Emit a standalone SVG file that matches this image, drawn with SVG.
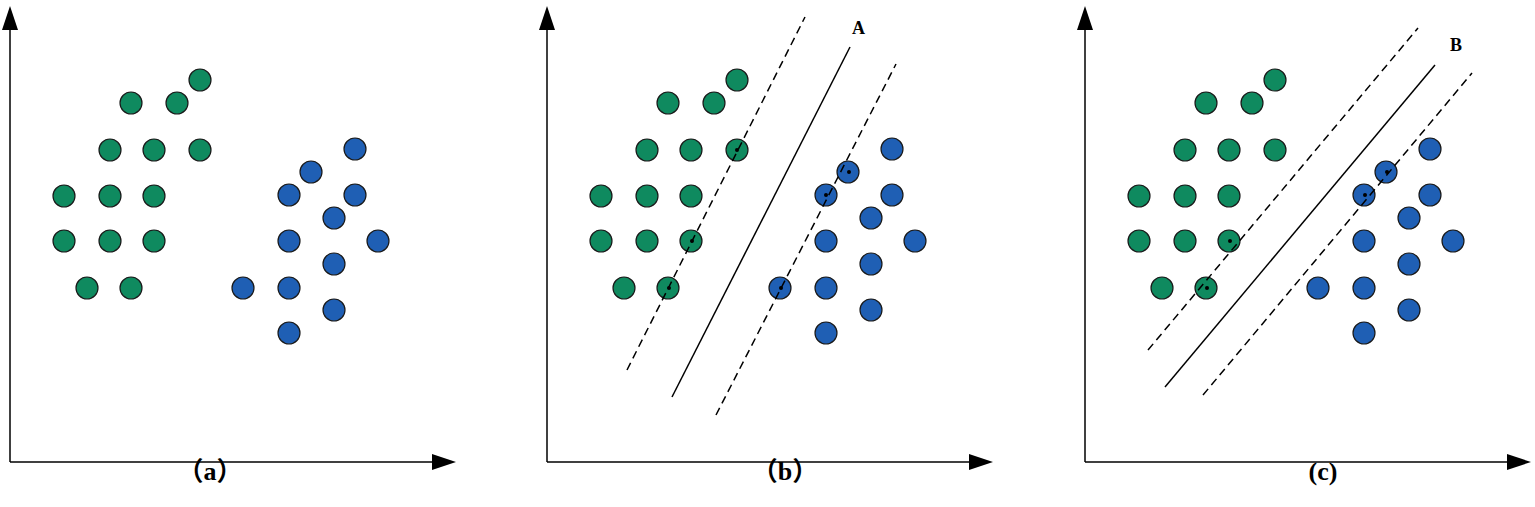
<svg xmlns="http://www.w3.org/2000/svg" width="1535" height="507" viewBox="0 0 1535 507">
<style>
.g{fill:#0f8a5f;stroke:#1a1a1a;stroke-width:1.2}
.b{fill:#1f5fb4;stroke:#1a1a1a;stroke-width:1.2}
.ax{stroke:#000;stroke-width:1.5;fill:none}
.s{stroke:#000;stroke-width:1.5}
.d{stroke:#000;stroke-width:1.5;stroke-dasharray:8,5}
.t{font-family:"Liberation Serif","Noto Sans CJK SC",serif;font-weight:bold;font-size:26px;fill:#000}
.l{font-family:"Liberation Serif",serif;font-weight:bold;font-size:18px;fill:#000}
</style>
<defs>
<marker id="ar" markerWidth="24" markerHeight="16" refX="2" refY="8" orient="auto" markerUnits="userSpaceOnUse" viewBox="0 0 24 16"><path d="M0,0L24,8L0,16Z" fill="#000"/></marker>
<g id="pts">
<circle class="g" cx="200" cy="80" r="11"/><circle class="g" cx="131" cy="103" r="11"/><circle class="g" cx="177" cy="103" r="11"/>
<circle class="g" cx="110" cy="150" r="11"/><circle class="g" cx="154" cy="150" r="11"/><circle class="g" cx="200" cy="150" r="11"/>
<circle class="g" cx="64" cy="196" r="11"/><circle class="g" cx="110" cy="196" r="11"/><circle class="g" cx="154" cy="196" r="11"/>
<circle class="g" cx="64" cy="241" r="11"/><circle class="g" cx="110" cy="241" r="11"/><circle class="g" cx="154" cy="241" r="11"/>
<circle class="g" cx="87" cy="288" r="11"/><circle class="g" cx="131" cy="288" r="11"/>
<circle class="b" cx="355" cy="149" r="11"/><circle class="b" cx="311" cy="172" r="11"/><circle class="b" cx="289" cy="195" r="11"/>
<circle class="b" cx="355" cy="195" r="11"/><circle class="b" cx="334" cy="218" r="11"/><circle class="b" cx="289" cy="241" r="11"/>
<circle class="b" cx="378" cy="241" r="11"/><circle class="b" cx="334" cy="264" r="11"/><circle class="b" cx="243" cy="288" r="11"/>
<circle class="b" cx="289" cy="288" r="11"/><circle class="b" cx="334" cy="310" r="11"/><circle class="b" cx="289" cy="333" r="11"/>
</g>
<g id="axes">
<line class="ax" x1="10" y1="462" x2="10" y2="28" marker-end="url(#ar)"/>
<line class="ax" x1="10" y1="462" x2="434" y2="462" marker-end="url(#ar)"/>
</g>
</defs>
<g id="panel-a"><use href="#axes"/><use href="#pts"/><text class="t" x="210" y="480" text-anchor="middle">（a）</text></g>
<g id="panel-b" transform="translate(537,0)"><use href="#axes"/><use href="#pts"/>
<g fill="#000"><circle cx="200" cy="150" r="2"/><circle cx="155" cy="241" r="2"/><circle cx="132" cy="288" r="2"/><circle cx="312" cy="172" r="2"/><circle cx="289" cy="195" r="2"/><circle cx="244" cy="288" r="2"/></g>
<text class="t" x="248" y="480" text-anchor="middle">（b）</text></g>
<g id="panel-c" transform="translate(1075,0)"><use href="#axes"/><use href="#pts"/>
<g fill="#000"><circle cx="155" cy="241" r="2"/><circle cx="132" cy="288" r="2"/><circle cx="312" cy="172" r="2"/><circle cx="290" cy="195" r="2"/></g>
<text class="t" x="248" y="480" text-anchor="middle">(c)</text></g>
<g id="connectors">
<line class="s" x1="672" y1="397" x2="850" y2="47"/>
<line class="d" x1="627" y1="370" x2="805" y2="17"/>
<line class="d" x1="716" y1="415" x2="896" y2="64"/>
<line class="s" x1="1165" y1="387" x2="1435" y2="65"/>
<line class="d" x1="1148" y1="350" x2="1418" y2="28"/>
<line class="d" x1="1203" y1="395" x2="1472" y2="73"/>
</g>
<text class="l" x="852" y="34">A</text>
<text class="l" x="1450" y="51">B</text>
</svg>
